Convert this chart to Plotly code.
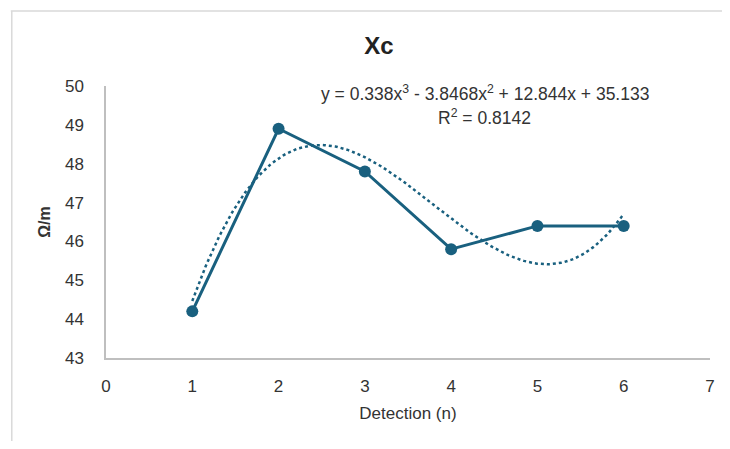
import numpy as np
import plotly.graph_objects as go

detection = [1, 2, 3, 4, 5, 6]
xc_values = [44.2, 48.9, 47.8, 45.8, 46.4, 46.4]
x_ticks = [0, 1, 2, 3, 4, 5, 6, 7]
y_ticks = [43, 44, 45, 46, 47, 48, 49, 50]
equation_text = "y = 0.338x<sup>3</sup> - 3.8468x<sup>2</sup> + 12.844x + 35.133"
r2_text = "R<sup>2</sup> = 0.8142"

# Cubic trendline fitted to the data (as in the spreadsheet)
coef = np.polyfit(detection, xc_values, 3)
xt = np.linspace(min(detection), max(detection), 200)
yt = np.polyval(coef, xt)

OFF = 8  # page body margin
W, H = 714, 433
# plot area in target-window pixels: x 106..715, y 86..358
L, T = 106 - OFF, 86 - OFF
R = W - (715 - OFF)
B = H - (358 - OFF)
pw, ph = W - L - R, H - T - B

def px_x(p):
    return (p - OFF - L) / pw

def px_y(p):
    return (H - B - (p - OFF)) / ph

color = "#19607f"
font = "Liberation Sans, Arial, sans-serif"
txt = "#333333"

fig = go.Figure()
fig.add_trace(go.Scatter(x=xt, y=yt, mode="lines",
                         line=dict(color=color, width=2.5, dash="dot"),
                         hoverinfo="skip", showlegend=False))
fig.add_trace(go.Scatter(x=detection, y=xc_values, mode="lines+markers",
                         line=dict(color=color, width=3),
                         marker=dict(color=color, size=12),
                         showlegend=False))

fig.update_layout(
    width=W, height=H,
    margin=dict(l=L, r=R, t=T, b=B),
    paper_bgcolor="white", plot_bgcolor="white",
    font=dict(family=font, color=txt, size=17),
    title=dict(text="<b>Xc</b>", x=(379 - OFF) / W, xref="container", xanchor="center",
               yref="container", y=1 - (46 - OFF) / H, yanchor="middle",
               font=dict(size=24, color="#222222",
                         family="Liberation Sans Narrow, Liberation Sans, sans-serif")),
    xaxis=dict(range=[0, 7], tickvals=x_ticks, showgrid=False, zeroline=False,
               showline=True, linecolor="#bfbfbf", linewidth=1.5,
               ticks="outside", ticklen=12, tickcolor="rgba(0,0,0,0)",
               tickfont=dict(size=17, color=txt),
               title=dict(text="Detection (n)", standoff=12,
                          font=dict(size=17, color=txt))),
    yaxis=dict(range=[43, 50], tickvals=y_ticks, showgrid=False, zeroline=False,
               showline=True, linecolor="#bfbfbf", linewidth=1.5,
               ticks="outside", ticklen=17, tickcolor="rgba(0,0,0,0)",
               tickfont=dict(size=17, color=txt),
               title=dict(text="<b>Ω/m</b>", standoff=10,
                          font=dict(size=16, color=txt))),
    annotations=[
        dict(text=equation_text, xref="paper", yref="paper",
             x=px_x(488), y=px_y(93), xanchor="center", yanchor="middle",
             showarrow=False, font=dict(size=17.5, color=txt)),
        dict(text=r2_text, xref="paper", yref="paper",
             x=px_x(488), y=px_y(117), xanchor="center", yanchor="middle",
             showarrow=False, font=dict(size=17.5, color=txt)),
    ],
    shapes=[
        dict(type="line", xref="paper", yref="paper",
             x0=px_x(10), x1=px_x(740), y0=px_y(11), y1=px_y(11),
             line=dict(color="#d9d9d9", width=1.5)),
        dict(type="line", xref="paper", yref="paper",
             x0=px_x(11), x1=px_x(11), y0=px_y(11), y1=px_y(460),
             line=dict(color="#d9d9d9", width=1.5)),
    ],
)

fig.write_html("out.html")
